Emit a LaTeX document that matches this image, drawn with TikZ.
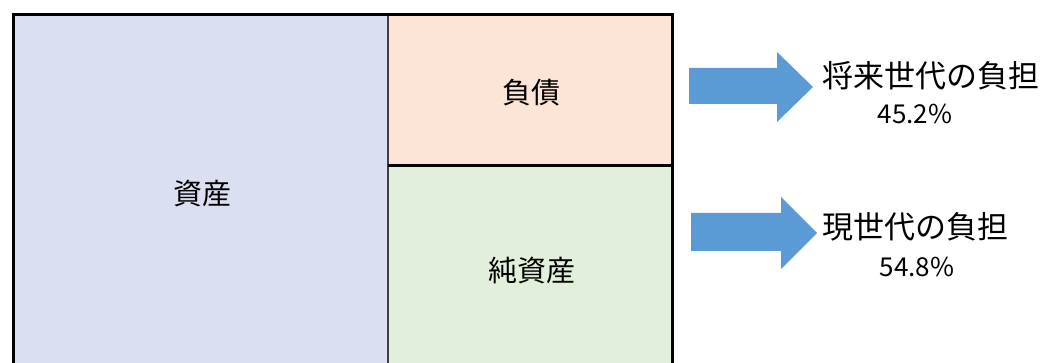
\documentclass[tikz,border=0pt]{standalone}
\usepackage{fontspec}
\setmainfont{Noto Sans CJK JP}
\usepackage{tikz}

\definecolor{assetblue}{HTML}{DAE0F2}
\definecolor{debtpeach}{HTML}{FCE4D6}
\definecolor{equitygreen}{HTML}{E2EFDA}
\definecolor{arrowblue}{HTML}{5B9BD5}

\begin{document}
\begin{tikzpicture}[x=1pt,y=-1pt,
    lbl/.style={font=\fontsize{29}{34}\selectfont,inner sep=0pt},
    side/.style={font=\fontsize{31}{36}\selectfont,inner sep=0pt},
    pct/.style={font=\fontsize{26}{30}\selectfont,inner sep=0pt}]
    % Page frame
    \useasboundingbox (0,0) rectangle (1045,363);
    \clip (0,0) rectangle (1045,363);

    % Block arrow: shaft from (#1,#2) to (#3,#4), head up to tip x = #5
    \def\blockarrow(#1,#2,#3,#4,#5,#6,#7){%
        \fill[arrowblue] (#1,#2) -- (#3,#2) -- (#3,#6) -- (#5,{(#6+#7)/2})
            -- (#3,#7) -- (#3,#4) -- (#1,#4) -- cycle;}

    % Fill the three parts of the balance sheet
    \fill[assetblue] (13,14.5) rectangle (388,380);
    \fill[debtpeach] (388,14.5) rectangle (672.5,165.7);
    \fill[equitygreen] (388,165.7) rectangle (672.5,380);

    % Inner lines
    \draw[line width=2pt,black!75] (388,14.5) -- (388,380);
    \draw[line width=3pt] (388,165.7) -- (672.5,165.7);

    % Outer frame (the bottom is cut off)
    \draw[line width=3pt] (13,380) -- (13,14.5) -- (672.5,14.5) -- (672.5,380);

    % Labels in the boxes
    \node[lbl] (asset) at (202,194) {資産};
    \node[lbl] (debt) at (531.5,92.5) {負債};
    \node[lbl] (equity) at (532,270.5) {純資産};

    % Arrows
    \blockarrow(689,68,777,104,813,52,122)
    \blockarrow(691,213,781,251,817,197,269)

    % Burden shares
    \node[side] (future) at (931,76) {将来世代の負担};
    \node[pct] (futurepct) at (915,114) {45.2\%};
    \node[side] (current) at (915,227) {現世代の負担};
    \node[pct] (currentpct) at (917,267) {54.8\%};
\end{tikzpicture}
\end{document}
